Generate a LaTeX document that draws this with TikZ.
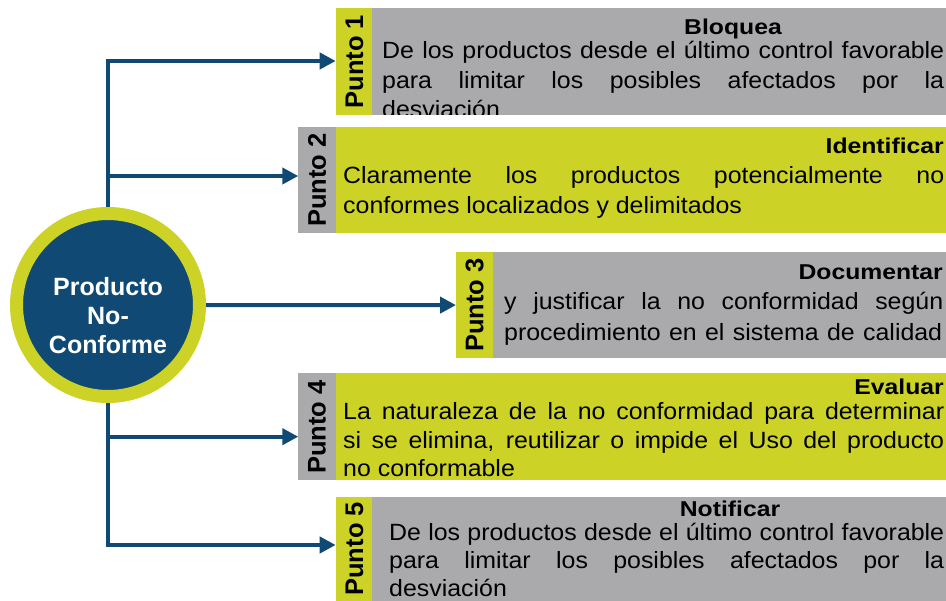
\documentclass[tikz,border=0pt]{standalone}
\usepackage{fontspec}
\setmainfont{Liberation Sans}
\newfontfamily\bodyfont[FakeStretch=1.06]{Liberation Sans}
\newfontfamily\titfont[FakeStretch=1.15]{Liberation Sans}
\usetikzlibrary{arrows.meta}
\definecolor{nblue}{RGB}{16,74,116}
\definecolor{nyel}{RGB}{204,211,38}
\definecolor{ngray}{RGB}{170,170,172}
\pgfdeclarelayer{bg}
\pgfsetlayers{bg,main}
\begin{document}
\begin{tikzpicture}[x=1pt,y=-1pt,
  strip/.style={minimum width=37.4pt, minimum height=#1, inner sep=0pt, outer sep=0pt,
    anchor=north west, font=\fontsize{25.5}{25}\selectfont\bfseries},
  panel/.style 2 args={minimum width=#1, minimum height=#2, inner sep=0pt, outer sep=0pt,
    anchor=north west},
  body/.style={inner sep=0pt, anchor=base west, font=\bodyfont\fontsize{23.5}{28}\selectfont},
  tit/.style={inner sep=0pt, font=\titfont\fontsize{21.5}{26}\selectfont\bfseries},
  conn/.style={draw=nblue, line width=4pt},
  arr/.style={conn, -{Triangle[length=16pt,width=16pt]}}]
\useasboundingbox (0,0) rectangle (946,601);

% central circle
\node[circle, fill=nblue, draw=nyel, line width=13pt, minimum size=183pt, inner sep=0pt] (c) at (108,305) {};
\node[text=white, align=center, inner sep=0pt, font=\fontsize{25}{29}\selectfont\bfseries] (ct) at (108,316) {Producto\\No-\\Conforme};

% box 1
\node[strip={106.7pt}, fill=nyel] (p1) at (335.7,8.3) {\rotatebox{90}{Punto 1}};
\node[panel={573.7pt}{106.7pt}, fill=ngray] (b1) at (372.3,8.3) {};
% box 2
\node[strip={106.6pt}, fill=ngray] (p2) at (298.3,126.7) {\rotatebox{90}{Punto 2}};
\node[panel={610.3pt}{106.6pt}, fill=nyel] (b2) at (335.7,126.7) {};
% box 3
\node[strip={106.8pt}, fill=nyel] (p3) at (456,251.7) {\rotatebox{90}{Punto 3}};
\node[panel={452.7pt}{106.8pt}, fill=ngray] (b3) at (493.3,251.7) {};
% box 4
\node[strip={107pt}, fill=ngray] (p4) at (298.3,373.5) {\rotatebox{90}{Punto 4}};
\node[panel={610.3pt}{107pt}, fill=nyel] (b4) at (335.7,373.5) {};
% box 5
\node[strip={104.3pt}, fill=nyel] (p5) at (335.7,496.7) {\rotatebox{90}{Punto 5}};
\node[panel={573.7pt}{104.3pt}, fill=ngray] (b5) at (372.3,496.7) {};

% texts box 1
\node[tit, anchor=base] (t1t) at (733,35) {Bloquea};
\node[body] (t1a) at (382,59) {\makebox[562pt][s]{De los productos desde el último control favorable}};
\node[body] (t1b) at (382,88.3) {\makebox[562pt][s]{para limitar los posibles afectados por la}};
\begin{scope}
  \clip (b1.north west) rectangle (b1.south east);
  \node[body] (t1c) at (382,117.6) {desviación};
\end{scope}
% texts box 2
\node[tit, anchor=base east] (t2t) at (944,153.3) {Identificar};
\node[body] (t2a) at (343,183.3) {\makebox[601pt][s]{Claramente los productos potencialmente no}};
\node[body] (t2b) at (343,213.3) {conformes localizados y delimitados};
% texts box 3
\node[tit, anchor=base east] (t3t) at (943,280) {Documentar};
\node[body] (t3a) at (504,310) {\makebox[439pt][s]{y justificar la no conformidad según}};
\node[body] (t3b) at (504,340.5) {\makebox[438pt][s]{procedimiento en el sistema de calidad}};
% texts box 4
\node[tit, anchor=base east] (t4t) at (944,395) {Evaluar};
\node[body] (t4a) at (343,420) {\makebox[601pt][s]{La naturaleza de la no conformidad para determinar}};
\node[body] (t4b) at (343,448.3) {\makebox[601pt][s]{si se elimina, reutilizar o impide el Uso del producto}};
\node[body] (t4c) at (343,477) {no conformable};
% texts box 5
\node[tit, anchor=base] (t5t) at (730,516.7) {Notificar};
\node[body] (t5a) at (389,540) {\makebox[555pt][s]{De los productos desde el último control favorable}};
\node[body] (t5b) at (389,568.3) {\makebox[555pt][s]{para limitar los posibles afectados por la}};
\node[body] (t5c) at (389,597) {desviación};

% connectors
\coordinate (j1) at (108,61);
\coordinate (j2) at (108,176);
\coordinate (j4) at (108,436.7);
\coordinate (j5) at (108,545);
\begin{pgfonlayer}{bg}
  \draw[arr] (c.center) |- (j1 -| p1.west);
  \draw[arr] (c.center) |- (j5 -| p5.west);
  \draw[arr] (j2) -- (j2 -| p2.west);
  \draw[arr] (j4) -- (j4 -| p4.west);
  \draw[arr] (c.center) -- (p3.west);
\end{pgfonlayer}
\end{tikzpicture}
\end{document}
